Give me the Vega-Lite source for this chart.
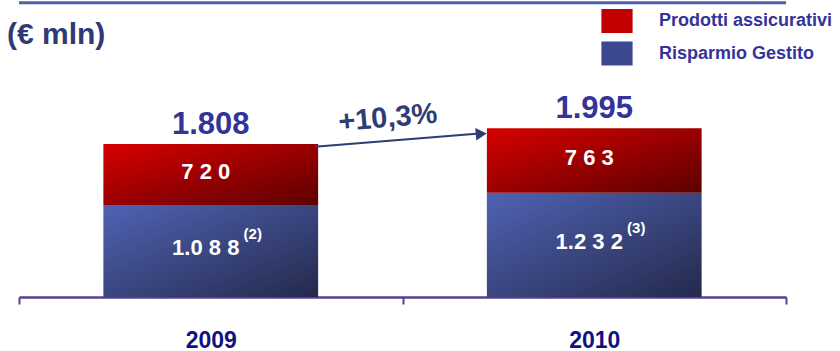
{
  "$schema": "https://vega.github.io/schema/vega-lite/v6.json",
  "width": 767,
  "height": 296,
  "autosize": {"type": "none"},
  "padding": {"left": 19, "top": 1, "right": 54, "bottom": 54},
  "background": "white",
  "title": {"text": "(€ mln)", "anchor": "start", "frame": "group", "orient": "top", "offset": -49, "baseline": "alphabetic", "dx": -12, "dy": 24, "font": "Liberation Sans", "fontSize": 30, "fontWeight": "bold", "color": "#2e3a74"},
  "config": {"view": {"stroke": null}, "font": "Liberation Sans"},
  "datasets": {
    "bars": [
      {"year": "2009", "serie": "Risparmio Gestito", "k": 1, "value": 1088, "label": "1.0 8 8", "note": "(2)"},
      {"year": "2009", "serie": "Prodotti assicurativi", "k": 2, "value": 720, "label": "7 2 0", "note": ""},
      {"year": "2010", "serie": "Risparmio Gestito", "k": 1, "value": 1232, "label": "1.2 3 2", "note": "(3)"},
      {"year": "2010", "serie": "Prodotti assicurativi", "k": 2, "value": 763, "label": "7 6 3", "note": ""}
    ],
    "totals": [
      {"year": "2009", "total": 1808, "label": "1.808"},
      {"year": "2010", "total": 1995, "label": "1.995"}
    ],
    "growth": [
      {"from": "2009", "to": "2010", "start": 1776, "end": 1929, "mid": 2118, "label": "+10,3%"}
    ],
    "border": [{"top": 3480}]
  },
  "layer": [
    {
      "data": {"name": "border"},
      "mark": {"type": "rule", "color": "#4f5fa8", "strokeWidth": 3},
      "encoding": {"y": {"field": "top", "type": "quantitative", "scale": {"domain": [0, 3480]}, "axis": null}}
    },
    {
      "data": {"name": "bars"},
      "transform": [{"stack": "value", "groupby": ["year"], "sort": [{"field": "k", "order": "ascending"}], "as": ["v0", "v1"]}],
      "mark": {"type": "bar", "width": {"band": 0.56}},
      "encoding": {
        "x": {"field": "year", "type": "nominal", "title": null, "scale": {"paddingInner": 0, "paddingOuter": 0},
          "axis": {"title": null, "labelAngle": 0, "tickBand": "extent", "domainColor": "#5a3e92", "domainWidth": 2.5, "tickColor": "#5a3e92", "tickWidth": 2, "tickSize": 7, "labelFont": "Liberation Sans", "labelFontSize": 23, "labelFontWeight": "bold", "labelColor": "#12127f", "labelPadding": 25}},
        "y": {"field": "v1", "type": "quantitative", "scale": {"domain": [0, 3480]}, "axis": null},
        "y2": {"field": "v0"},
        "color": {
          "condition": {"test": "datum.serie === 'Prodotti assicurativi'",
            "value": {"gradient": "linear", "x1": 0, "y1": 0, "x2": 1, "y2": 1, "stops": [{"offset": 0, "color": "#d80000"}, {"offset": 1, "color": "#5c0000"}]}},
          "value": {"gradient": "linear", "x1": 0, "y1": 0, "x2": 1, "y2": 1, "stops": [{"offset": 0, "color": "#5062b4"}, {"offset": 1, "color": "#242a4c"}]}
        }
      }
    },
    {
      "data": {"name": "bars"},
      "mark": {"type": "square", "opacity": 0},
      "encoding": {
        "x": {"field": "year", "type": "nominal"},
        "y": {"field": "value", "type": "quantitative"},
        "color": {"field": "serie", "type": "nominal",
          "scale": {"domain": ["Prodotti assicurativi", "Risparmio Gestito"], "range": ["#c20000", "#3b4890"]},
          "legend": {"title": null, "orient": "none", "legendX": 586, "legendY": 8, "direction": "vertical", "symbolType": "M-1.3,-1H1.3V1H-1.3Z", "symbolSize": 576, "symbolStrokeWidth": 0, "symbolOpacity": 1, "labelFont": "Liberation Sans", "labelFontSize": 18, "labelFontWeight": "bold", "labelColor": "#333399", "labelOffset": 30, "labelLimit": 400, "rowPadding": 8.5}}
      }
    },
    {
      "data": {"name": "bars"},
      "transform": [
        {"stack": "value", "groupby": ["year"], "sort": [{"field": "k", "order": "ascending"}], "as": ["v0", "v1"]},
        {"calculate": "(datum.v0 + datum.v1) / 2", "as": "midv"}
      ],
      "mark": {"type": "text", "font": "Liberation Sans", "fontSize": 22, "fontWeight": "bold", "color": "white", "baseline": "middle", "dx": -5, "dy": -3},
      "encoding": {
        "x": {"field": "year", "type": "nominal"},
        "y": {"field": "midv", "type": "quantitative"},
        "text": {"field": "label"}
      }
    },
    {
      "data": {"name": "bars"},
      "transform": [
        {"stack": "value", "groupby": ["year"], "sort": [{"field": "k", "order": "ascending"}], "as": ["v0", "v1"]},
        {"calculate": "(datum.v0 + datum.v1) / 2", "as": "midv"}
      ],
      "mark": {"type": "text", "font": "Liberation Sans", "fontSize": 15, "fontWeight": "bold", "color": "white", "baseline": "middle", "dx": 42, "dy": -17},
      "encoding": {
        "x": {"field": "year", "type": "nominal"},
        "y": {"field": "midv", "type": "quantitative"},
        "text": {"field": "note"}
      }
    },
    {
      "data": {"name": "totals"},
      "mark": {"type": "text", "font": "Liberation Sans", "fontSize": 31, "fontWeight": "bold", "color": "#333399", "baseline": "alphabetic", "dy": -10},
      "encoding": {
        "x": {"field": "year", "type": "nominal"},
        "y": {"field": "total", "type": "quantitative"},
        "text": {"field": "label"}
      }
    },
    {
      "data": {"name": "growth"},
      "mark": {"type": "rule", "color": "#2f3d73", "strokeWidth": 2, "xOffset": 104, "x2Offset": -118},
      "encoding": {
        "x": {"field": "from", "type": "nominal"},
        "x2": {"field": "to"},
        "y": {"field": "start", "type": "quantitative"},
        "y2": {"field": "end"}
      }
    },
    {
      "data": {"name": "growth"},
      "mark": {"type": "point", "shape": "triangle-right", "filled": true, "opacity": 1, "color": "#2f3d73", "size": 160, "angle": -4.6, "xOffset": -113},
      "encoding": {
        "x": {"field": "to", "type": "nominal"},
        "y": {"field": "end", "type": "quantitative"}
      }
    },
    {
      "data": {"name": "growth"},
      "mark": {"type": "text", "font": "Liberation Sans", "fontSize": 29, "fontWeight": "bold", "color": "#2f3d73", "baseline": "middle", "angle": -5, "xOffset": 177},
      "encoding": {
        "x": {"field": "from", "type": "nominal"},
        "y": {"field": "mid", "type": "quantitative"},
        "text": {"field": "label"}
      }
    }
  ]
}
